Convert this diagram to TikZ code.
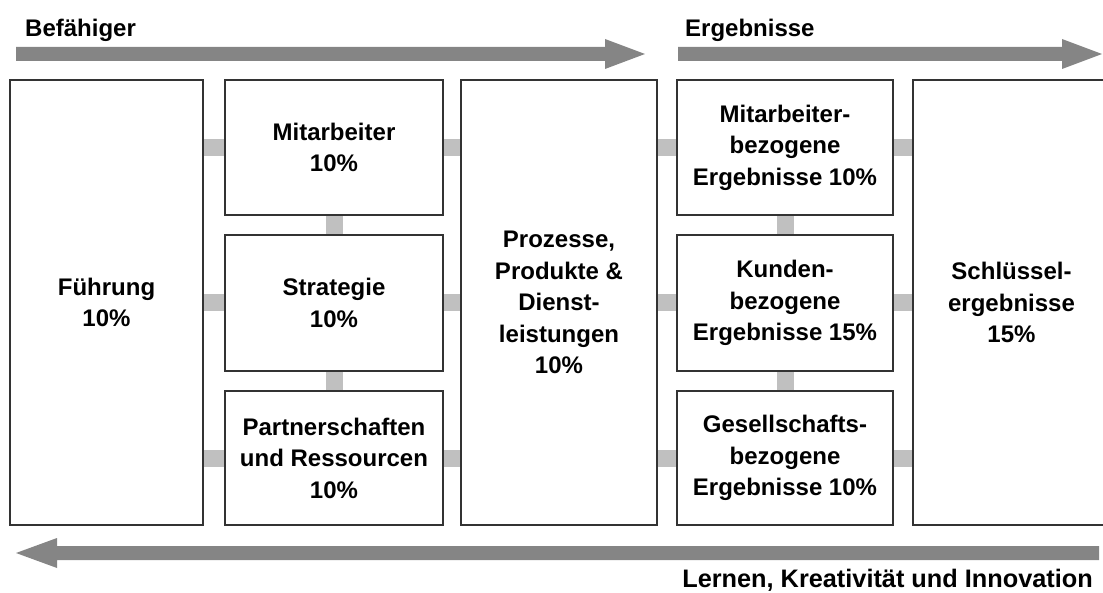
\documentclass[tikz,border=0pt]{standalone}
\usepackage{fontspec}
\setmainfont{Liberation Sans}
\usetikzlibrary{backgrounds}
\definecolor{boxc}{HTML}{333333}
\definecolor{connc}{HTML}{C0C0C0}
\definecolor{arrc}{HTML}{858585}
\begin{document}
\begin{tikzpicture}[x=1pt,y=-1pt,
  box/.style={draw=boxc, line width=1.2pt, fill=white, rectangle, inner sep=0pt,
    align=center, font=\fontsize{24}{31.5}\selectfont\bfseries},
  conn/.style={draw=connc, line width=17pt},
  arr/.style={fill=arrc, draw=none},
  title/.style={font=\fontsize{24}{28}\selectfont\bfseries, inner sep=0pt}]
\useasboundingbox (0,0) rectangle (1103,593);

% arrows
\fill[arr] (16,47) -- (605,47) -- (605,39) -- (645,54) -- (605,69) -- (605,61) -- (16,61) -- cycle;
\fill[arr] (678,47) -- (1062,47) -- (1062,39) -- (1102,54) -- (1062,69) -- (1062,61) -- (678,61) -- cycle;
\fill[arr] (1099,546) -- (57,546) -- (57,538) -- (16,553) -- (57,568) -- (57,560) -- (1099,560) -- cycle;

\node[title, anchor=base west] (bef) at (25,37) {Befähiger};
\node[title, anchor=base west] (erg) at (685,37) {Ergebnisse};
\node[title, font=\fontsize{25.3}{28}\selectfont\bfseries, anchor=base east] (lern) at (1093,587) {Lernen, Kreativität und Innovation};

% boxes
\node[box, minimum width=193pt, minimum height=445pt] (fuehr) at (106.5,302.5) {Führung\\10\%};
\node[box, minimum width=218pt, minimum height=135pt] (mit) at (334,147.5) {Mitarbeiter\\10\%};
\node[box, minimum width=218pt, minimum height=136pt] (strat) at (334,303) {Strategie\\10\%};
\node[box, minimum width=218pt, minimum height=134pt] (part) at (334,458) {Partnerschaften\\und Ressourcen\\10\%};
\node[box, minimum width=196pt, minimum height=445pt] (proz) at (559,302.5) {Prozesse,\\Produkte \&\\Dienst-\\leistungen\\10\%};
\node[box, minimum width=216pt, minimum height=135pt] (mb) at (785,147.5) {Mitarbeiter-\\bezogene\\Ergebnisse 10\%};
\node[box, minimum width=216pt, minimum height=136pt] (kb) at (785,303) {Kunden-\\bezogene\\Ergebnisse 15\%};
\node[box, minimum width=216pt, minimum height=134pt] (gb) at (785,458) {Gesellschafts-\\bezogene\\Ergebnisse 10\%};
\node[box, minimum width=197pt, minimum height=445pt] (schl) at (1011.5,302.5) {Schlüssel-\\ergebnisse\\15\%};

\begin{scope}[on background layer]
  \draw[conn] (fuehr.east |- mit.west) -- (mit.west);
  \draw[conn] (fuehr.east |- strat.west) -- (strat.west);
  \draw[conn] (fuehr.east |- part.west) -- (part.west);
  \draw[conn] (mit.east) -- (proz.west |- mit.east);
  \draw[conn] (strat.east) -- (proz.west |- strat.east);
  \draw[conn] (part.east) -- (proz.west |- part.east);
  \draw[conn] (mit.south) -- (strat.north);
  \draw[conn] (strat.south) -- (part.north);
  \draw[conn] (proz.east |- mb.west) -- (mb.west);
  \draw[conn] (proz.east |- kb.west) -- (kb.west);
  \draw[conn] (proz.east |- gb.west) -- (gb.west);
  \draw[conn] (mb.east) -- (schl.west |- mb.east);
  \draw[conn] (kb.east) -- (schl.west |- kb.east);
  \draw[conn] (gb.east) -- (schl.west |- gb.east);
  \draw[conn] (mb.south) -- (kb.north);
  \draw[conn] (kb.south) -- (gb.north);
\end{scope}
\end{tikzpicture}
\end{document}
